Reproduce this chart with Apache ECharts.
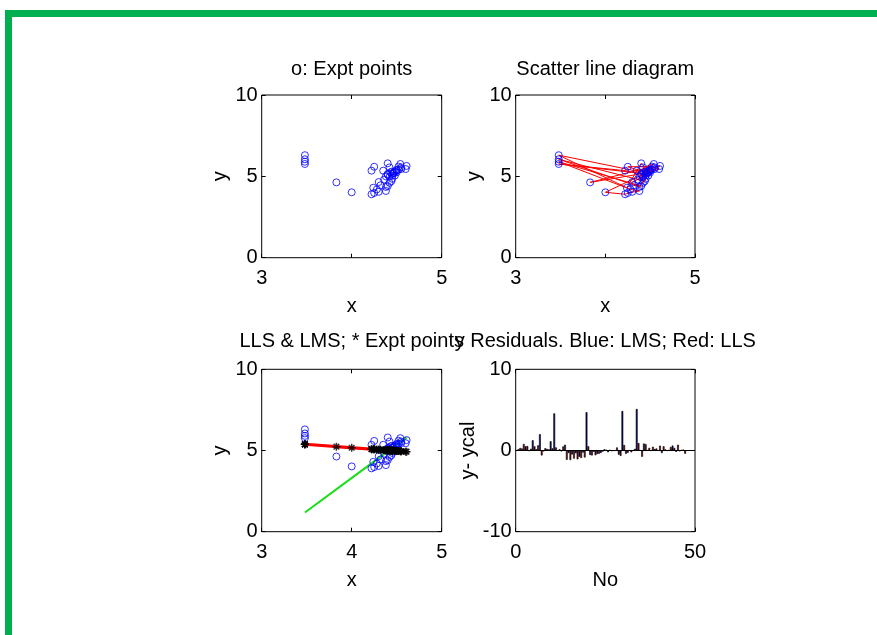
<!DOCTYPE html>
<html>
<head>
<meta charset="utf-8">
<script src="https://cdn.jsdelivr.net/npm/echarts/dist/echarts.min.js"></script>
<style>
  html, body { margin: 0; padding: 0; background: #fff; }
  #chart { width: 877px; height: 635px; }
</style>
</head>
<body>
<div id="chart"></div>
<script>
// Experimental points, in recording order (No = 1..N)
const xPts = [4.45, 4.54, 4.42, 4.47, 4.25, 4.52, 3.83, 4.50, 4.40, 4.22,
              3.48, 4.45, 4.55, 4.00, 4.22, 4.30, 4.25, 4.38, 4.28, 3.48,
              4.40, 4.32, 4.42, 4.45, 4.40, 4.48, 4.42, 4.50, 4.38, 3.48,
              4.44, 4.36, 4.46, 3.48, 4.24, 4.40, 4.48, 4.52, 4.43, 4.55,
              4.60, 4.38, 4.50, 4.35, 4.61, 4.45, 4.30];
const yPts = [5.30, 5.76, 5.55, 5.20, 5.59, 5.60, 4.63, 5.25, 5.15, 5.35,
              5.76, 5.15, 5.45, 4.02, 3.90, 4.05, 3.98, 4.10, 4.20, 5.90,
              4.40, 4.45, 4.60, 4.85, 5.10, 5.05, 4.98, 5.35, 4.35, 6.05,
              4.70, 4.80, 5.20, 6.30, 4.30, 5.80, 5.30, 5.42, 5.25, 5.55,
              5.45, 5.00, 5.40, 5.35, 5.64, 5.05, 4.65];

// Straight-line fits, y = a + b*x
const llsFit = [6.77, -0.40];   // least squares (red)
const lmsFit = [-13.05, 4.09];  // least median of squares (green)

const titles = ['o: Expt points', 'Scatter line diagram',
                'LLS & LMS; * Expt points', 'y Residuals. Blue: LMS; Red: LLS'];
const pointTicks = [3, 4, 5];
const resTicks = [-10, 0, 10];

const FONT = '"Liberation Sans", Arial, Helvetica, sans-serif';

const obs = xPts.map((x, i) => [x, yPts[i]]);
const llsLine = xPts.map(x => [x, llsFit[0] + llsFit[1] * x]);
const lmsLine = xPts.map(x => [x, lmsFit[0] + lmsFit[1] * x]);
const lmsRes = xPts.map((x, i) => [i + 1, yPts[i] - (lmsFit[0] + lmsFit[1] * x)]);
const llsRes = xPts.map((x, i) => [i + 1, yPts[i] - (llsFit[0] + llsFit[1] * x)]);

const grids = [
  { left: 261.7, top: 95, width: 180, height: 162.7 },
  { left: 515.7, top: 95, width: 179.3, height: 162.7 },
  { left: 261.7, top: 369.3, width: 180, height: 162.4 },
  { left: 515.7, top: 369.3, width: 179.3, height: 162.4 }
].map(g => Object.assign({ show: true, borderColor: '#000', borderWidth: 1, backgroundColor: '#fff' }, g));

const tick = { show: true, inside: true, length: 4, lineStyle: { color: '#000', width: 1 } };
const labelStyle = { fontSize: 20, color: '#000', fontFamily: FONT };

function xAxisPair(gi, min, max, interval, name, fmt) {
  return [
    {
      gridIndex: gi, type: 'value', position: 'bottom', min, max, interval,
      name, nameLocation: 'middle', nameGap: 39,
      nameTextStyle: labelStyle,
      axisLine: { show: false, onZero: false }, axisTick: tick, splitLine: { show: false },
      axisLabel: Object.assign({ margin: 11, formatter: fmt }, labelStyle)
    },
    {
      gridIndex: gi, type: 'value', position: 'top', min, max, interval,
      axisLine: { show: false, onZero: false }, axisTick: tick, splitLine: { show: false },
      axisLabel: { show: false }
    }
  ];
}
function yAxisPair(gi, min, max, interval, name, gap) {
  return [
    {
      gridIndex: gi, type: 'value', position: 'left', min, max, interval,
      name, nameLocation: 'middle', nameGap: gap, nameRotate: 90,
      nameTextStyle: labelStyle,
      axisLine: { show: false, onZero: false }, axisTick: tick, splitLine: { show: false },
      axisLabel: Object.assign({ margin: 4 }, labelStyle)
    },
    {
      gridIndex: gi, type: 'value', position: 'right', min, max, interval,
      axisLine: { show: false, onZero: false }, axisTick: tick, splitLine: { show: false },
      axisLabel: { show: false }
    }
  ];
}

const hideMiddle = v => (v === pointTicks[1] ? '' : String(v));
const plain = v => String(v);

const xAxes = [].concat(
  xAxisPair(0, pointTicks[0], pointTicks[2], 1, 'x', hideMiddle),
  xAxisPair(1, pointTicks[0], pointTicks[2], 1, 'x', hideMiddle),
  xAxisPair(2, pointTicks[0], pointTicks[2], 1, 'x', plain),
  xAxisPair(3, 0, 50, 50, 'No', plain)
);
const yAxes = [].concat(
  yAxisPair(0, 0, 10, 5, 'y', 31),
  yAxisPair(1, 0, 10, 5, 'y', 31),
  yAxisPair(2, 0, 10, 5, 'y', 31),
  yAxisPair(3, resTicks[0], resTicks[2], 10, 'y- ycal', 32)
);

const circle = {
  type: 'scatter', symbol: 'circle', symbolSize: 7,
  itemStyle: { color: 'rgba(0,0,0,0)', borderColor: '#0000ff', borderWidth: 1 },
  z: 5
};
const asterisk = 'path://M0,-10L0,10M-10,0L10,0M-7,-7L7,7M-7,7L7,-7';

const series = [
  Object.assign({ xAxisIndex: 0, yAxisIndex: 0, data: obs }, circle),

  { type: 'line', xAxisIndex: 2, yAxisIndex: 2, data: obs, symbol: 'none',
    lineStyle: { color: '#ff0000', width: 1 }, z: 3 },
  Object.assign({ xAxisIndex: 2, yAxisIndex: 2, data: obs }, circle),

  { type: 'line', xAxisIndex: 4, yAxisIndex: 4, data: lmsLine, symbol: 'none',
    lineStyle: { color: '#18e018', width: 2 }, z: 2 },
  { type: 'line', xAxisIndex: 4, yAxisIndex: 4, data: llsLine, symbol: 'none',
    lineStyle: { color: '#ff0000', width: 3 }, z: 3 },
  Object.assign({ xAxisIndex: 4, yAxisIndex: 4, data: obs }, circle),
  { type: 'scatter', xAxisIndex: 4, yAxisIndex: 4, data: llsLine, symbol: asterisk, symbolSize: 8,
    itemStyle: { color: 'rgba(0,0,0,0)', borderColor: '#000', borderWidth: 1.5 }, z: 6 },

  { type: 'bar', xAxisIndex: 6, yAxisIndex: 6, data: lmsRes, barWidth: 1.8, barGap: '0%',
    itemStyle: { color: '#000080', borderColor: '#000', borderWidth: 0.6 },
    markLine: { silent: true, symbol: 'none', label: { show: false },
      lineStyle: { color: '#000', width: 1, type: 'solid' }, data: [{ yAxis: 0 }] } },
  { type: 'bar', xAxisIndex: 6, yAxisIndex: 6, data: llsRes, barWidth: 1.8, barGap: '0%',
    itemStyle: { color: '#800000', borderColor: '#000', borderWidth: 0.6 } }
];

const titleCenters = [
  [351.7, 59], [605.3, 59], [351.7, 331], [605.3, 331]
];

const chart = echarts.init(document.getElementById('chart'), null, { renderer: 'canvas' });
chart.setOption({
  backgroundColor: '#fff',
  animation: false,
  title: titles.map((t, i) => ({
    text: t, left: titleCenters[i][0], top: titleCenters[i][1], textAlign: 'center',
    padding: 0,
    textStyle: { fontSize: 20, fontWeight: 'normal', color: '#000', fontFamily: FONT }
  })),
  graphic: [
    { type: 'rect', shape: { x: 5, y: 10, width: 872, height: 7 }, style: { fill: '#00b050' } },
    { type: 'rect', shape: { x: 5, y: 10, width: 7, height: 625 }, style: { fill: '#00b050' } }
  ],
  grid: grids,
  xAxis: xAxes,
  yAxis: yAxes,
  series
});
</script>
</body>
</html>
